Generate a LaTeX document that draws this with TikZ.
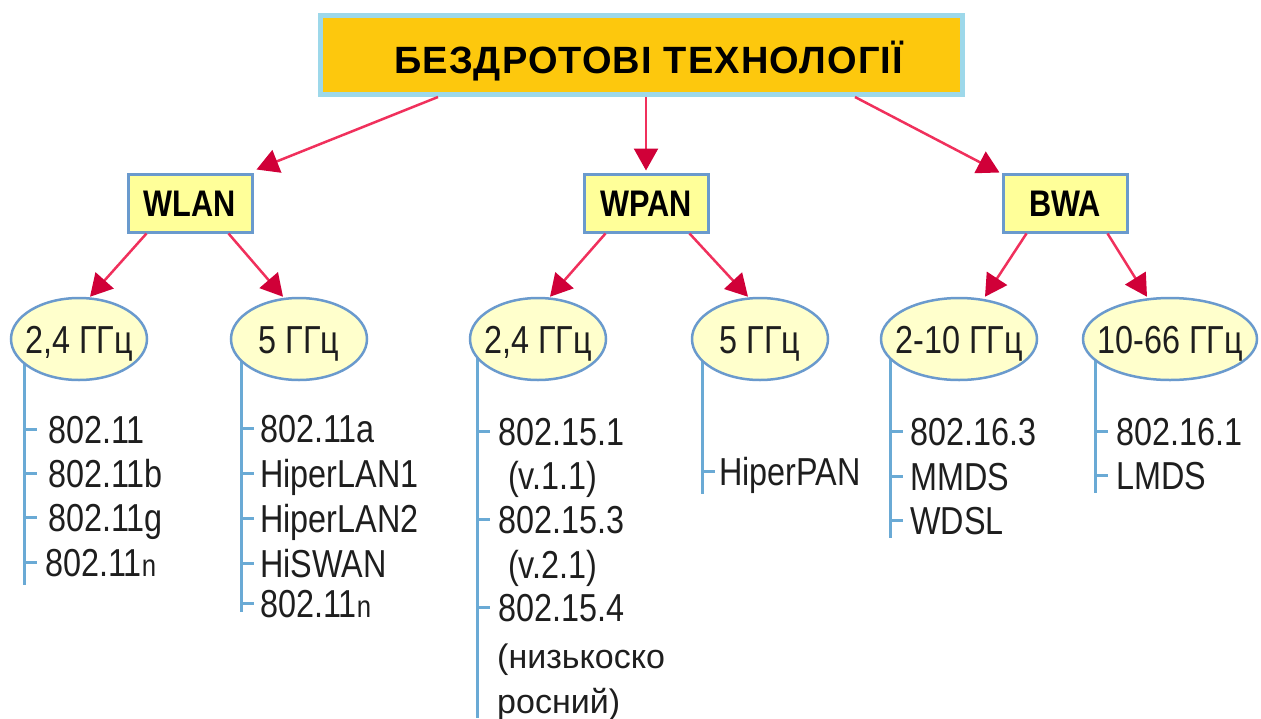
\documentclass[tikz,border=0pt]{standalone}
\usepackage{fontspec}
\setmainfont{Liberation Sans}[FakeStretch=0.83]
\newfontfamily\titlefont{Liberation Sans}[LetterSpace=3]
\newfontfamily\widefont{Liberation Sans}
\usetikzlibrary{arrows.meta,backgrounds,calc,shapes.geometric}

\definecolor{titlefill}{HTML}{FDC80D}
\definecolor{titleedge}{HTML}{9DD8EA}
\definecolor{boxfill}{HTML}{FFFF99}
\definecolor{edgeblue}{HTML}{6A9ACD}
\definecolor{ellfill}{HTML}{FFFFCC}
\definecolor{arrowred}{HTML}{F0305C}
\definecolor{headred}{HTML}{D00038}
\definecolor{treeline}{HTML}{6AAAD5}
\definecolor{ink}{HTML}{1E1E1E}

\tikzset{
  titlebox/.style={draw=titleedge, line width=5pt, fill=titlefill, inner sep=0pt,
    text height=37pt, text depth=0pt,
    font=\titlefont\bfseries\fontsize{38}{40}\selectfont, text=black},
  groupbox/.style={draw=edgeblue, line width=3pt, fill=boxfill, inner sep=0pt,
    minimum width=124pt, minimum height=58pt, text height=27pt, text depth=0pt,
    font=\bfseries\fontsize{37}{40}\selectfont, text=black},
  band/.style={ellipse, draw=edgeblue, line width=2.5pt, fill=ellfill, inner sep=0pt,
    minimum height=82pt},
  bandtext/.style={inner sep=0pt, text height=28pt, text depth=0pt,
    font=\fontsize{39}{44}\selectfont, text=ink},
  arr/.style={draw=arrowred, line width=2.5pt,
    -{Triangle[length=22pt, width=24pt, color=headred]}},
  tree/.style={draw=treeline, line width=3pt},
  item/.style={anchor=west, inner sep=0pt, text height=28pt, text depth=0pt,
    font=\fontsize{39}{44}\selectfont, text=ink},
  note/.style={anchor=west, inner sep=0pt, text height=18pt, text depth=0pt,
    font=\widefont\fontsize{34}{40}\selectfont, text=ink},
}

\newcommand{\smalln}{{\fontsize{31}{34}\selectfont n}}

\begin{document}
\begin{tikzpicture}[x=1pt, y=-1pt]
\useasboundingbox (0,0) rectangle (1261,718);

% heading
\node[titlebox, minimum width=642pt, minimum height=79pt] (top) at (641.5,55)
  {\hspace{14pt}БЕЗДРОТОВІ ТЕХНОЛОГІЇ};

% three families
\node[groupbox] (wlan) at (190,203) {WLAN};
\node[groupbox] (wpan) at (646,203) {WPAN};
\node[groupbox] (bwa)  at (1065,203) {BWA};

% frequency bands
\node[band, minimum width=136pt, label={[bandtext]center:2,4 ГГц}] (e1) at (79,339) {};
\node[band, minimum width=136pt, label={[bandtext]center:5 ГГц}] (e2) at (299,339) {};
\node[band, minimum width=136pt, label={[bandtext]center:2,4 ГГц}] (e3) at (538,339) {};
\node[band, minimum width=136pt, label={[bandtext]center:5 ГГц}] (e4) at (760,339) {};
\node[band, minimum width=156pt, label={[bandtext]center:2-10 ГГц}] (e5) at (959,339) {};
\node[band, minimum width=174pt, label={[bandtext]center:10-66 ГГц}] (e6) at (1170,339) {};

% arrows from the heading
\draw[arr] ($(top.south west)+(120,0)$) -- ($(wlan.north east)+(3,-3)$);
\draw[arr] (top.south -| wpan.north) -- ($(wpan.north)+(0,-2)$);
\draw[arr] ($(top.south east)+(-110,0)$) -- ($(bwa.north west)+(-2,0)$);

% arrows to the bands
\draw[arr] ($(wlan.south west)+(20,0)$) -- ($(e1.north)+(11,0)$);
\draw[arr] ($(wlan.south east)+(-25,0)$) -- ($(e2.north)+(-16,0)$);
\draw[arr] ($(wpan.south west)+(23,0)$) -- ($(e3.north)+(12,0)$);
\draw[arr] ($(wpan.south east)+(-20,0)$) -- ($(e4.north)+(-12,0)$);
\draw[arr] ($(bwa.south west)+(25,0)$) -- ($(e5.north)+(26,0)$);
\draw[arr] ($(bwa.south east)+(-21,0)$) -- ($(e6.north)+(-23,0)$);

% standards: WLAN 2,4 GHz
\coordinate (v1a) at (24,339);  \coordinate (v1b) at (24,585);
\node[item] (a1) at (48,429) {802.11};
\node[item] (a2) at (48,473) {802.11b};
\node[item] (a3) at (48,517) {802.11g};
\node[item] (a4) at (45,562) {802.11\smalln};

% standards: WLAN 5 GHz
\coordinate (v2a) at (241,339); \coordinate (v2b) at (241,612);
\node[item] (b1) at (260,428) {802.11a};
\node[item] (b2) at (260,473) {HiperLAN1};
\node[item] (b3) at (260,518) {HiperLAN2};
\node[item] (b4) at (260,563) {HiSWAN};
\node[item] (b5) at (260,603) {802.11\smalln};

% standards: WPAN 2,4 GHz
\coordinate (v3a) at (477,339); \coordinate (v3b) at (477,718);
\node[item] (c1) at (498,431) {802.15.1};
\node[item] (c2) at (508,475) {(v.1.1)};
\node[item] (c3) at (498,519) {802.15.3};
\node[item] (c4) at (508,564) {(v.2.1)};
\node[item] (c5) at (498,607) {802.15.4};
\node[note] (c6) at (497,659) {(низькоско};
\node[note] (c7) at (497,704) {росний)};

% standards: WPAN 5 GHz
\coordinate (v4a) at (702,339); \coordinate (v4b) at (702,494);
\node[item] (d1) at (719,471) {HiperPAN};

% standards: BWA 2-10 GHz
\coordinate (v5a) at (890,339); \coordinate (v5b) at (890,538);
\node[item] (f1) at (910,431) {802.16.3};
\node[item] (f2) at (910,476) {MMDS};
\node[item] (f3) at (910,520) {WDSL};

% standards: BWA 10-66 GHz
\coordinate (v6a) at (1095,339); \coordinate (v6b) at (1095,493);
\node[item] (g1) at (1116,431) {802.16.1};
\node[item] (g2) at (1116,475) {LMDS};

\begin{scope}[on background layer]
  \foreach \v in {1,...,6} \draw[tree] (v\v a) -- (v\v b);
\end{scope}

% ticks
\foreach \n in {a1,a2,a3,a4} \draw[tree] (v1a |- \n.west) -- ++(13,0);
\foreach \n in {b1,b2,b3,b4,b5} \draw[tree] (v2a |- \n.west) -- ++(13,0);
\foreach \n in {c1,c3,c5} \draw[tree] (v3a |- \n.west) -- ++(13,0);
\draw[tree] (v4a |- d1.west) -- ++(13,0);
\foreach \n in {f1,f2,f3} \draw[tree] (v5a |- \n.west) -- ++(13,0);
\foreach \n in {g1,g2} \draw[tree] (v6a |- \n.west) -- ++(13,0);
\end{tikzpicture}
\end{document}
